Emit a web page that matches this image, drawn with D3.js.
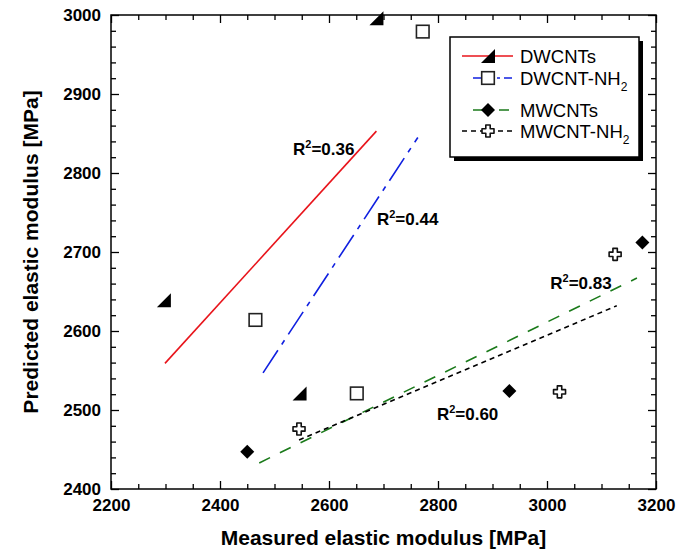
<!DOCTYPE html>
<html><head><meta charset="utf-8">
<script src="https://cdn.jsdelivr.net/npm/d3@7"></script>
<style>body{margin:0;background:#fff}svg{display:block}text{font-family:"Liberation Sans",Arial,sans-serif}</style>
</head><body><svg id="c" width="692" height="554"></svg>
<script>
// ---- data ----
const xTicks = [2200, 2400, 2600, 2800, 3000, 3200];
const yTicks = [2400, 2500, 2600, 2700, 2800, 2900, 3000];
const seriesNames = ["DWCNTs", "DWCNT-NH2", "MWCNTs", "MWCNT-NH2"];
const dwX = [2297, 2546, 2687];
const dwY = [2639, 2521, 2996];
const dwnhX = [2465, 2651, 2772];
const dwnhY = [2614, 2521, 2979];
const mwX = [2450, 2931, 3175];
const mwY = [2447, 2524, 2712];
const mwnhX = [2545, 3023, 3125];
const mwnhY = [2476, 2523, 2697];
// fit lines: [x1, y1, x2, y2]
const dwFit = [2299, 2559, 2687, 2853];
const dwnhFit = [2479, 2547, 2763, 2845];
const mwFit = [2472, 2433, 3165, 2667];
const mwnhFit = [2545, 2462, 3128, 2632];
const r2Labels = ["0.36", "0.44", "0.83", "0.60"];
const r2X = [2534, 2688, 3006, 2798];
const r2Y = [2823, 2734, 2653, 2487];

const svg = d3.select("#c");
const L = 111, R = 656, T = 15, B = 489;
const x = d3.scaleLinear().domain([2200, 3200]).range([L, R]);
const y = d3.scaleLinear().domain([2400, 3000]).range([B, T]);

const styles = [
  {color: "#e8141b", dash: null, marker: "tri"},
  {color: "#1020e0", dash: "27,7,5,7", marker: "sq"},
  {color: "#1a7a1a", dash: "12,11", marker: "dia"},
  {color: "#000", dash: "5,4", marker: "cross"}
];

// axes
const minorX = d3.range(2200, 3201, 50).filter(v => v % 200 !== 0);
const minorY = d3.range(2400, 3001, 20).filter(v => v % 100 !== 0);
function styleAxis(g){ g.select(".domain").remove(); g.selectAll("line").attr("stroke","#000").attr("stroke-width",1.3); }

svg.append("g").attr("transform",`translate(0,${B})`)
  .call(d3.axisBottom(x).tickValues(xTicks).tickSize(-8).tickPadding(6).tickFormat(d3.format("d")))
  .call(styleAxis).call(g=>g.selectAll("text").attr("font-size",17).attr("font-weight","bold").attr("fill","#000").attr("dy","0.95em"));
svg.append("g").attr("transform",`translate(0,${B})`)
  .call(d3.axisBottom(x).tickValues(minorX).tickSize(-5).tickFormat("")).call(styleAxis);
svg.append("g").attr("transform",`translate(0,${T})`)
  .call(d3.axisTop(x).tickValues(xTicks).tickSize(-8).tickFormat("")).call(styleAxis);
svg.append("g").attr("transform",`translate(0,${T})`)
  .call(d3.axisTop(x).tickValues(minorX).tickSize(-5).tickFormat("")).call(styleAxis);

svg.append("g").attr("transform",`translate(${L},0)`)
  .call(d3.axisLeft(y).tickValues(yTicks).tickSize(-8).tickPadding(10).tickFormat(d3.format("d")))
  .call(styleAxis).call(g=>g.selectAll("text").attr("font-size",17).attr("font-weight","bold").attr("fill","#000"));
svg.append("g").attr("transform",`translate(${L},0)`)
  .call(d3.axisLeft(y).tickValues(minorY).tickSize(-5).tickFormat("")).call(styleAxis);
svg.append("g").attr("transform",`translate(${R},0)`)
  .call(d3.axisRight(y).tickValues(yTicks).tickSize(-8).tickFormat("")).call(styleAxis);
svg.append("g").attr("transform",`translate(${R},0)`)
  .call(d3.axisRight(y).tickValues(minorY).tickSize(-5).tickFormat("")).call(styleAxis);

svg.append("rect").attr("x",L).attr("y",T).attr("width",R-L).attr("height",B-T)
  .attr("fill","none").attr("stroke","#000").attr("stroke-width",1.5);

// axis titles
svg.append("text").attr("x",(L+R)/2).attr("y",545).attr("text-anchor","middle")
  .attr("font-size",21).attr("font-weight","bold").text("Measured elastic modulus [MPa]");
svg.append("text").attr("transform",`translate(38,${(T+B)/2}) rotate(-90)`).attr("text-anchor","middle")
  .attr("font-size",21).attr("font-weight","bold").text("Predicted elastic modulus [MPa]");

// markers
function marker(g, type, cx, cy){
  if(type==="tri"){
    const s=7;
    g.append("path").attr("d",`M${cx-s},${cy+s}L${cx+s},${cy+s}L${cx+s},${cy-s}Z`).attr("fill","#000");
  } else if(type==="sq"){
    const s=6.3;
    g.append("rect").attr("x",cx-s).attr("y",cy-s).attr("width",2*s).attr("height",2*s)
      .attr("fill","#fff").attr("stroke","#222").attr("stroke-width",1.6);
  } else if(type==="dia"){
    const s=7;
    g.append("path").attr("d",`M${cx},${cy-s}L${cx+s},${cy}L${cx},${cy+s}L${cx-s},${cy}Z`).attr("fill","#000");
  } else {
    const a=6, b=2.2;
    g.append("path").attr("d",`M${cx-b},${cy-a}H${cx+b}V${cy-b}H${cx+a}V${cy+b}H${cx+b}V${cy+a}H${cx-b}V${cy+b}H${cx-a}V${cy-b}H${cx-b}Z`)
      .attr("fill","#fff").attr("stroke","#111").attr("stroke-width",1.6).attr("stroke-linejoin","round");
  }
}

// fit lines
const fits = [dwFit, dwnhFit, mwFit, mwnhFit];
fits.forEach((f,i)=>{
  svg.append("line").attr("x1",x(f[0])).attr("y1",y(f[1])).attr("x2",x(f[2])).attr("y2",y(f[3]))
    .attr("stroke",styles[i].color).attr("stroke-width",1.6).attr("stroke-dasharray",styles[i].dash);
});

// points
const pts = [[dwX,dwY],[dwnhX,dwnhY],[mwX,mwY],[mwnhX,mwnhY]];
const pg = svg.append("g");
pts.forEach((p,i)=>{ p[0].forEach((xv,j)=>marker(pg, styles[i].marker, x(xv), y(p[1][j]))); });

// R2 labels
r2Labels.forEach((v,i)=>{
  const t = svg.append("text").attr("x",x(r2X[i])).attr("y",y(r2Y[i])).attr("font-size",17).attr("font-weight","bold");
  t.append("tspan").text("R");
  t.append("tspan").attr("font-size",11).attr("dy",-7).text("2");
  t.append("tspan").attr("dy",7).text("="+v);
});

// legend
const lg = svg.append("g");
lg.append("rect").attr("x",454).attr("y",41).attr("width",189).attr("height",120).attr("fill","#000");
lg.append("rect").attr("x",450).attr("y",37).attr("width",189).attr("height",120).attr("fill","#fff").attr("stroke","#000").attr("stroke-width",1.5);
const rowsY = [56, 78, 110, 131];
const lineX = [[462,513],[473,512],[473,512],[462,513]];
seriesNames.forEach((n,i)=>{
  lg.append("line").attr("x1",lineX[i][0]).attr("x2",lineX[i][1]).attr("y1",rowsY[i]).attr("y2",rowsY[i])
    .attr("stroke",styles[i].color).attr("stroke-width",1.6)
    .attr("stroke-dasharray", i===1 ? "20,4,3,4" : (i===2 ? "10,16" : (i===3 ? "5,4" : null)));
  marker(lg, styles[i].marker, 488, rowsY[i]);
  const t = lg.append("text").attr("x",520).attr("y",rowsY[i]+6.5).attr("font-size",18.5);
  if(n.endsWith("NH2")){
    t.append("tspan").text(n.slice(0,-1));
    t.append("tspan").attr("font-size",12).attr("dy",6).text("2");
  } else t.text(n);
});
</script></body></html>
